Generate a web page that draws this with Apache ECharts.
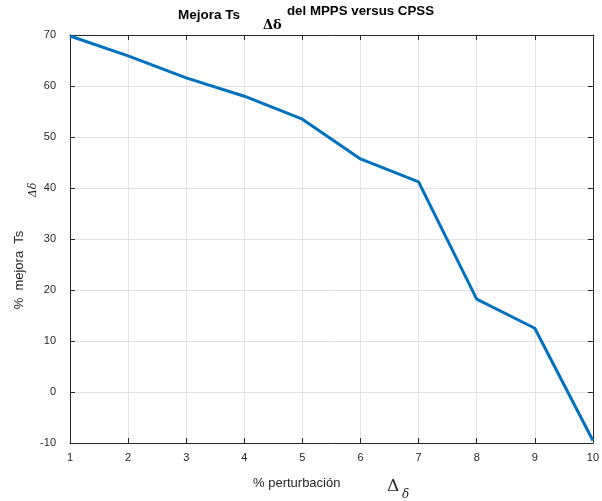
<!DOCTYPE html>
<html><head><meta charset="utf-8">
<script src="https://cdn.jsdelivr.net/npm/echarts@6/dist/echarts.min.js"></script>
<style>html,body{margin:0;padding:0;background:#fff}#c{width:602px;height:501px}</style>
</head><body><div id="c"></div>
<script>
const xValues = [1, 2, 3, 4, 5, 6, 7, 8, 9, 10];
const mejora = [69.8, 65.9, 61.6, 58.0, 53.5, 45.7, 41.2, 18.2, 12.5, -9.5];
const titleParts = ['Mejora Ts', 'Δδ', 'del MPPS versus CPSS'];
const xLabel = '% perturbación';
const yLabel = '%  mejora  Ts';

const chart = echarts.init(document.getElementById('c'));
const axisColor = '#262626';
const font = 'Liberation Sans, Arial, sans-serif';
const baseX = {
  type: 'value', min: 1, max: 10, interval: 1,
  axisLine: { show: true, onZero: false, lineStyle: { color: axisColor, width: 1 } },
  axisTick: { show: true, inside: true, length: 5, lineStyle: { color: axisColor } },
  splitLine: { show: false }
};
const baseY = {
  type: 'value', min: -10, max: 70, interval: 10,
  axisLine: { show: true, onZero: false, lineStyle: { color: axisColor, width: 1 } },
  axisTick: { show: true, inside: true, length: 5, lineStyle: { color: axisColor } },
  splitLine: { show: false }
};
chart.setOption({
  animation: false,
  grid: { left: 70, right: 6, top: 35, bottom: 58, containLabel: false },
  xAxis: [
    Object.assign({}, baseX, {
      position: 'bottom',
      axisLabel: { color: axisColor, fontSize: 11, fontFamily: font, margin: 9 },
      splitLine: { show: true, lineStyle: { color: '#e3e3e3', width: 1 } }
    }),
    Object.assign({}, baseX, { position: 'top', axisLabel: { show: false } })
  ],
  yAxis: [
    Object.assign({}, baseY, {
      position: 'left',
      axisLabel: { color: axisColor, fontSize: 11, fontFamily: font, margin: 14 },
      splitLine: { show: true, lineStyle: { color: '#e3e3e3', width: 1 } }
    }),
    Object.assign({}, baseY, { position: 'right', axisLabel: { show: false } })
  ],
  series: [{
    type: 'line',
    data: xValues.map((x, i) => [x, mejora[i]]),
    showSymbol: false,
    lineStyle: { color: '#0072BD', width: 3 },
    itemStyle: { color: '#0072BD' },
    clip: false
  }],
  graphic: [
    { type: 'text', x: 178, y: 15, style: { text: titleParts[0], font: 'bold 13.5px ' + font, fill: '#000', verticalAlign: 'middle' } },
    { type: 'text', x: 263, y: 26, style: { text: titleParts[1], font: 'bold 13px DejaVu Serif, serif', fill: '#000', verticalAlign: 'middle' } },
    { type: 'text', x: 287, y: 11, style: { text: titleParts[2], font: 'bold 13.3px ' + font, fill: '#000', verticalAlign: 'middle' } },
    { type: 'text', x: 253, y: 483, style: { text: xLabel, font: '13px ' + font, fill: axisColor, verticalAlign: 'middle' } },
    { type: 'text', x: 387, y: 487, style: { text: 'Δ', font: '17px DejaVu Serif, serif', fill: axisColor, verticalAlign: 'middle' } },
    { type: 'text', x: 402, y: 495, style: { text: 'δ', font: 'italic 12px DejaVu Serif, serif', fill: axisColor, verticalAlign: 'middle' } },
    { type: 'text', x: 19, y: 270, rotation: Math.PI / 2, style: { text: yLabel, font: '13px ' + font, fill: axisColor, align: 'center', verticalAlign: 'middle' } },
    { type: 'text', x: 33, y: 190, rotation: Math.PI / 2, style: { text: 'Δδ', font: 'italic 11px DejaVu Serif, serif', fill: axisColor, align: 'center', verticalAlign: 'middle' } }
  ]
});
</script></body></html>
